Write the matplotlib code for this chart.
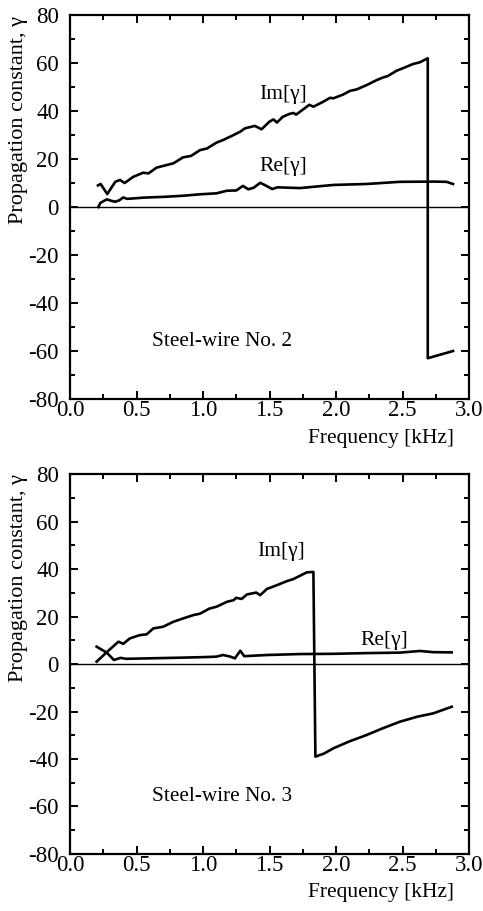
import numpy as np
import matplotlib
matplotlib.use('Agg')
import matplotlib.pyplot as plt
from matplotlib.ticker import MultipleLocator

plt.rcParams['font.family'] = ['Liberation Serif', 'DejaVu Serif']
plt.rcParams['axes.unicode_minus'] = False

# steel-wire No. 2
f2_im = [0.21, 0.23, 0.28, 0.34, 0.376, 0.41, 0.476, 0.55, 0.59, 0.65, 0.727, 0.777, 0.85,
         0.91, 0.977, 1.03, 1.10, 1.15, 1.23, 1.28, 1.316, 1.39, 1.44, 1.50, 1.53, 1.555,
         1.60, 1.65, 1.68, 1.70, 1.78, 1.80, 1.83, 1.905, 1.955, 1.98, 2.055, 2.105, 2.155,
         2.23, 2.306, 2.355, 2.39, 2.456, 2.506, 2.58, 2.63, 2.69, 2.69, 2.88]
im2 = [9.0, 9.6, 5.4, 10.5, 11.3, 10.0, 12.6, 14.3, 14.0, 16.4, 17.5, 18.2, 20.7,
       21.3, 23.7, 24.4, 26.8, 27.9, 30.0, 31.4, 32.8, 33.8, 32.4, 35.6, 36.5, 35.2,
       37.6, 38.8, 39.2, 38.5, 41.8, 42.6, 41.8, 43.9, 45.5, 45.3, 46.9, 48.4, 49.0,
       50.8, 52.9, 54.0, 54.6, 56.8, 57.9, 59.6, 60.3, 62.0, -63.0, -60.0]
f2_re = [0.213, 0.228, 0.276, 0.31, 0.34, 0.37, 0.40, 0.43, 0.55, 0.727, 0.85, 0.977, 1.10,
         1.18, 1.25, 1.30, 1.34, 1.38, 1.43, 1.47, 1.52, 1.56, 1.73, 1.98, 2.23, 2.48,
         2.73, 2.83, 2.88]
re2 = [0.0, 1.7, 3.2, 2.6, 2.2, 2.8, 4.0, 3.4, 3.9, 4.3, 4.7, 5.3, 5.7,
       6.8, 6.9, 8.8, 7.4, 8.0, 10.1, 9.0, 7.5, 8.2, 7.9, 9.2, 9.6, 10.5,
       10.6, 10.5, 9.6]

# steel-wire No. 3
f3_im = [0.20, 0.276, 0.35, 0.365, 0.40, 0.45, 0.526, 0.576, 0.626, 0.70, 0.777, 0.85,
         0.927, 0.977, 1.05, 1.10, 1.18, 1.23, 1.25, 1.29, 1.33, 1.40, 1.43, 1.48, 1.555,
         1.63, 1.68, 1.73, 1.78, 1.83, 1.845, 1.91, 1.98, 2.10, 2.23, 2.35, 2.48, 2.61,
         2.73, 2.80, 2.87]
im3 = [1.0, 5.0, 8.7, 9.4, 8.5, 10.8, 12.2, 12.5, 15.0, 15.7, 17.8, 19.2,
       20.6, 21.2, 23.4, 24.1, 26.2, 26.9, 27.9, 27.4, 29.3, 30.1, 29.0, 31.6, 33.2,
       34.9, 35.8, 37.2, 38.6, 38.8, -39.0, -37.7, -35.5, -32.6, -29.9, -27.1, -24.3, -22.2,
       -20.8, -19.4, -18.0]
f3_re = [0.20, 0.276, 0.33, 0.38, 0.42, 0.60, 0.85, 1.00, 1.10, 1.15, 1.20, 1.24, 1.28,
         1.31, 1.48, 1.73, 1.98, 2.23, 2.48, 2.63, 2.73, 2.87]
re3 = [7.3, 4.8, 1.7, 2.6, 2.2, 2.4, 2.7, 2.9, 3.1, 3.8, 3.2, 2.4, 5.6,
       3.3, 3.8, 4.2, 4.3, 4.6, 4.8, 5.5, 5.0, 4.9]


def draw_panel(ax, f_im, im, f_re, re, name, im_xy, re_xy):
    ax.axhline(0, color='black', lw=1.0)
    ax.plot(f_im, im, color='black', lw=1.9)
    ax.plot(f_re, re, color='black', lw=1.9)
    ax.text(im_xy[0], im_xy[1], 'Im[γ]', fontsize=15.5, ha='center', va='center')
    ax.text(re_xy[0], re_xy[1], 'Re[γ]', fontsize=15.5, ha='center', va='center')
    ax.text(1.145, -56, name, fontsize=15.3, ha='center', va='center')

    ax.set_xlim(0, 3.0)
    ax.set_ylim(-80, 80)
    ax.xaxis.set_major_locator(MultipleLocator(0.5))
    ax.xaxis.set_minor_locator(MultipleLocator(0.25))
    ax.yaxis.set_major_locator(MultipleLocator(20))
    ax.yaxis.set_minor_locator(MultipleLocator(10))
    ax.xaxis.set_major_formatter(plt.FormatStrFormatter('%.1f'))
    ax.tick_params(which='both', direction='in', top=True, right=True, labelsize=16.5, width=1.4)
    ax.tick_params(which='major', length=6)
    ax.tick_params(which='minor', length=3.5)
    ax.tick_params(axis='x', pad=1)
    ax.tick_params(axis='y', pad=8)
    for sp in ax.spines.values():
        sp.set_linewidth(1.6)

    ax.set_xlabel('Frequency [kHz]', fontsize=15.5, ha='right', va='center')
    ax.xaxis.set_label_coords(0.962, -0.102, transform=ax.transAxes)
    ax.set_ylabel('Propagation constant, γ', fontsize=16, va='center')
    ax.yaxis.set_label_coords(-0.13, 0.727)


fig = plt.figure(figsize=(4.83, 9.11), dpi=100)
ax1 = fig.add_axes([0.145, 0.562, 0.826, 0.4215])
ax2 = fig.add_axes([0.145, 0.0626, 0.826, 0.417])

draw_panel(ax1, f2_im, im2, f2_re, re2, 'Steel-wire No. 2', (1.6, 46.7), (1.6, 17.0))
draw_panel(ax2, f3_im, im3, f3_re, re3, 'Steel-wire No. 3', (1.59, 47.3), (2.36, 10.1))

fig.savefig('out.png', dpi=100)
